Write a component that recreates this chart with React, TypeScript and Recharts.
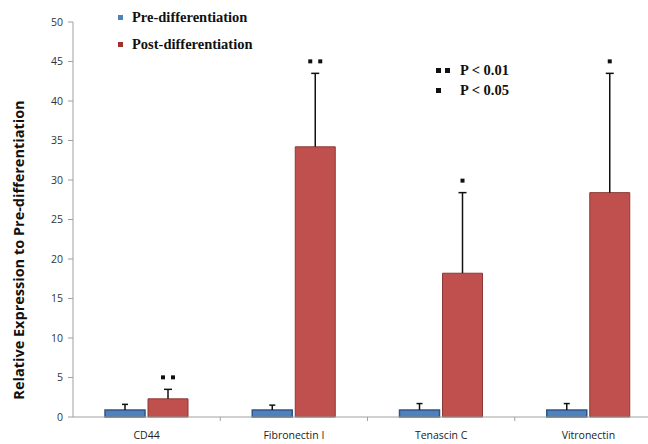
import { BarChart, Bar, XAxis, YAxis, Legend, LabelList, Rectangle } from "recharts";

const categories = ["CD44", "Fibronectin I", "Tenascin C", "Vitronectin"];
const preValues = [0.9, 0.9, 0.9, 0.9];
const preErrors = [0.7, 0.6, 0.8, 0.8];
const postValues = [2.3, 34.2, 18.2, 28.4];
const postErrors = [1.2, 9.3, 10.2, 15.1];
const significance = [2, 2, 1, 1]; // number of dots: 2 = P<0.01, 1 = P<0.05
const yTicks = [0, 5, 10, 15, 20, 25, 30, 35, 40, 45, 50];

const data = categories.map((name, i) => ({
  name,
  pre: preValues[i],
  preErr: preErrors[i],
  post: postValues[i],
  postErr: postErrors[i],
  sig: significance[i],
}));

const BLUE = "#4f81bd";
const BLUE_EDGE = "#2f5688";
const RED = "#c0504d";
const RED_EDGE = "#8c3836";
const SERIF = "'Liberation Serif', 'Times New Roman', serif";
const SANS = "'Open Sans', sans-serif";

// bar with an upper-only error whisker (T shape), scaled from the bar's own geometry
function barWithError(errKey: string, capWidth: number) {
  return (props: any) => {
    const { x, y, width, height, payload, value } = props;
    const v = Array.isArray(value) ? value[1] - value[0] : value;
    const scale = v ? height / v : 0;
    const top = y - payload[errKey] * scale;
    const cx = x + width / 2;
    return (
      <g>
        <Rectangle {...props} />
        <line x1={cx} x2={cx} y1={y} y2={top} stroke="#111" strokeWidth={1.5} />
        <line x1={cx - capWidth / 2} x2={cx + capWidth / 2} y1={top} y2={top} stroke="#111" strokeWidth={1.5} />
      </g>
    );
  };
}

function SigDots(props: any) {
  const { x, y, width, height, index } = props;
  const n = significance[index];
  const scale = height / postValues[index];
  const top = y - postErrors[index] * scale;
  const cx = x + width / 2;
  const cy = top - 12;
  const offsets = n === 2 ? [-5, 5] : [0];
  return (
    <g>
      {offsets.map((o) => (
        <rect key={o} x={cx + o - 2} y={cy - 2} width={4} height={4} fill="#111" />
      ))}
    </g>
  );
}

function CategoryTick(props: any) {
  const { x, y, payload, width, visibleTicksCount, index } = props;
  const band = width / visibleTicksCount;
  const axisY = y - 15;
  return (
    <g>
      {index < visibleTicksCount - 1 && (
        <line x1={x + band / 2} x2={x + band / 2} y1={axisY} y2={axisY + 4} stroke="#a0a0a0" />
      )}
      <text x={x} y={y} dy="0.71em" textAnchor="middle" style={{ fontFamily: SANS, fontSize: 10.5, fill: "#222" }}>
        {payload.value}
      </text>
    </g>
  );
}

function Square({ color }: { color: string }) {
  return <span style={{ width: 5, height: 5, background: color, display: "inline-block" }} />;
}

function LegendBox() {
  const items = [
    { label: "Pre-differentiation", color: BLUE },
    { label: "Post-differentiation", color: "#a0302c" },
  ];
  return (
    <div style={{ fontFamily: SERIF, fontWeight: "bold", fontSize: 14.5, color: "#111" }}>
      {items.map((it) => (
        <div key={it.label} style={{ display: "flex", alignItems: "center", height: 27, gap: 9 }}>
          <Square color={it.color} />
          {it.label}
        </div>
      ))}
    </div>
  );
}

export default function App() {
  return (
    <div style={{ position: "absolute", left: 0, top: 0, width: 648, height: 444, overflow: "hidden", background: "#fff" }}>
      <BarChart
        width={680}
        height={444}
        data={data}
        margin={{ top: 22, right: 18, left: 0, bottom: 5 }}
        barSize={40}
        barGap={3}
      >
        <XAxis
          dataKey="name"
          tickLine={false}
          tickSize={0}
          tickMargin={15}
          height={22}
          axisLine={{ stroke: "#a0a0a0" }}
          tick={<CategoryTick />}
        />
        <YAxis
          width={73}
          domain={[0, 50]}
          ticks={yTicks}
          tickSize={5}
          tickMargin={5}
          axisLine={{ stroke: "#a0a0a0" }}
          tickLine={{ stroke: "#a0a0a0" }}
          tick={{ fontFamily: SANS, fontSize: 10.5, fill: "#333" }}
          label={{
            content: () => (
              <text
                x={18}
                y={250}
                transform="rotate(-90 18 250)"
                textAnchor="middle"
                dominantBaseline="central"
                style={{ fontFamily: SANS, fontWeight: "bold", fontSize: 14.5, fill: "#111" }}
              >
                Relative Expression to Pre-differentiation
              </text>
            ),
          }}
        />
        <Legend
          layout="vertical"
          align="center"
          verticalAlign="middle"
          content={<LegendBox />}
          wrapperStyle={{ top: 4, left: 118, width: "auto" }}
        />
        <Bar
          dataKey="pre"
          name="Pre-differentiation"
          fill={BLUE}
          stroke={BLUE_EDGE}
          strokeWidth={1.5}
          isAnimationActive={false}
          shape={barWithError("preErr", 6)}
        />
        <Bar
          dataKey="post"
          name="Post-differentiation"
          fill={RED}
          stroke={RED_EDGE}
          strokeWidth={1}
          isAnimationActive={false}
          shape={barWithError("postErr", 8)}
        >
          <LabelList dataKey="sig" content={<SigDots />} />
        </Bar>
      </BarChart>
      <div
        style={{
          position: "absolute",
          left: 436,
          top: 60,
          fontFamily: SERIF,
          fontWeight: "bold",
          fontSize: 14.5,
          color: "#111",
          lineHeight: "20px",
        }}
      >
        <div style={{ display: "flex", alignItems: "center" }}>
          <span style={{ width: 24, display: "flex", gap: 4 }}>
            <Square color="#111" />
            <Square color="#111" />
          </span>
          <span>P &lt; 0.01</span>
        </div>
        <div style={{ display: "flex", alignItems: "center" }}>
          <span style={{ width: 24, display: "flex" }}>
            <Square color="#111" />
          </span>
          <span>P &lt; 0.05</span>
        </div>
      </div>
    </div>
  );
}
